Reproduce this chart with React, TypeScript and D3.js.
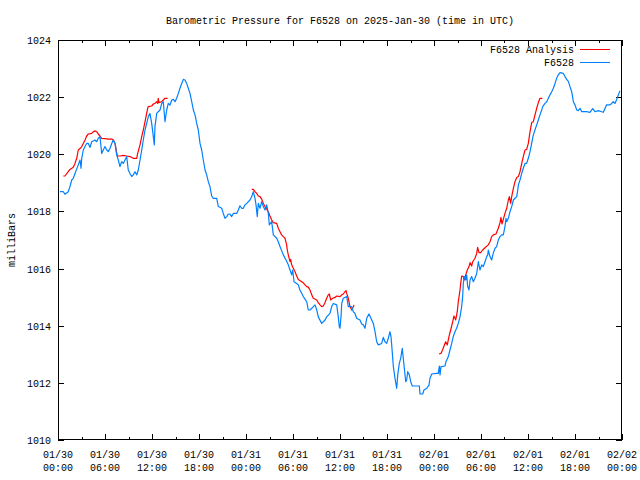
import React from "react";
import * as d3 from "d3";

const TITLE = "Barometric Pressure for F6528 on 2025-Jan-30 (time in UTC)";
const Y_LABEL = "milliBars";
const START = Date.UTC(2025, 0, 30);
const END = Date.UTC(2025, 1, 2);
const Y_DOMAIN: [number, number] = [1010, 1024];
const yTicks = [1010, 1012, 1014, 1016, 1018, 1020, 1022, 1024];
const seriesNames = ["F6528 Analysis", "F6528"];
const seriesColors = ["#ff0000", "#0080ff"];

// [hours since 2025-01-30 00:00 UTC, pressure mb]
const observed: [number, number][] = [
  [0.26, 1018.69], [0.68, 1018.69], [0.89, 1018.6], [1.31, 1018.69], [1.53, 1018.87], [1.75, 1019.1], [1.95, 1019.16], [2.17, 1019.33],
  [2.59, 1019.63], [2.81, 1019.8], [2.94, 1019.51], [3.03, 1019.86], [3.23, 1020.15], [3.45, 1020.27], [3.66, 1020.38], [3.87, 1020.38],
  [4.09, 1020.24], [4.3, 1020.44], [4.72, 1020.5], [4.94, 1020.44], [5.14, 1020.56], [5.36, 1020.62], [5.58, 1020.03], [5.78, 1020.15],
  [6.0, 1020.27], [6.22, 1020.15], [6.42, 1020.09], [6.64, 1020.21], [6.86, 1020.38], [7.06, 1020.5], [7.28, 1020.38], [7.49, 1019.98],
  [7.7, 1019.8], [7.91, 1019.57], [8.13, 1019.74], [8.34, 1019.68], [8.55, 1019.8], [8.77, 1019.92], [8.97, 1019.45], [9.19, 1019.33],
  [9.41, 1019.22], [9.61, 1019.28], [9.83, 1019.39], [10.05, 1019.28], [10.25, 1019.45], [10.47, 1019.8], [10.69, 1020.15], [10.89, 1020.5],
  [11.11, 1020.85], [11.32, 1021.08], [11.53, 1021.32], [11.74, 1021.43], [11.96, 1021.08], [12.17, 1020.62], [12.29, 1020.33], [12.38, 1020.97],
  [12.6, 1021.43], [12.8, 1021.49], [13.02, 1021.55], [13.24, 1021.78], [13.44, 1021.84], [13.66, 1021.14], [13.88, 1021.55], [14.08, 1021.78],
  [14.3, 1021.72], [14.52, 1021.9], [14.72, 1021.92], [14.94, 1021.84], [15.15, 1021.96], [15.36, 1022.13], [15.57, 1022.31], [15.79, 1022.48],
  [16.0, 1022.62], [16.21, 1022.6], [16.43, 1022.48], [16.63, 1022.31], [16.85, 1022.13], [17.07, 1021.84], [17.28, 1021.55], [17.49, 1021.38],
  [17.71, 1021.08], [17.91, 1020.85], [18.13, 1020.38], [18.34, 1020.15], [18.55, 1019.8], [18.77, 1019.45], [18.98, 1019.28], [19.19, 1019.04],
  [19.4, 1018.87], [19.62, 1018.54], [19.83, 1018.46], [20.26, 1018.46], [20.47, 1018.17], [20.9, 1018.11], [21.1, 1017.93], [21.32, 1017.76],
  [21.54, 1017.82], [21.74, 1017.91], [21.96, 1017.91], [22.17, 1017.82], [22.38, 1017.93], [22.81, 1017.93], [23.02, 1018.05], [23.23, 1018.2],
  [23.45, 1018.11], [23.66, 1018.11], [23.87, 1018.23], [24.09, 1018.28], [24.51, 1018.4], [24.73, 1018.52], [24.93, 1018.69], [25.15, 1018.46],
  [25.28, 1018.23], [25.44, 1017.82], [25.57, 1018.28], [25.79, 1018.11], [26.0, 1018.34], [26.21, 1018.17], [26.43, 1018.05], [26.64, 1018.23],
  [26.85, 1017.93], [26.98, 1017.53], [27.28, 1017.64], [27.49, 1017.18], [27.92, 1017.06], [28.12, 1016.94], [28.34, 1016.77], [28.76, 1016.48],
  [29.11, 1016.3], [29.4, 1016.13], [29.62, 1015.95], [29.83, 1015.78], [29.96, 1015.95], [30.13, 1015.54], [30.47, 1015.48], [30.68, 1015.43],
  [30.89, 1015.25], [31.32, 1015.02], [31.75, 1014.84], [31.95, 1014.55], [32.17, 1014.55], [32.39, 1014.61], [32.59, 1014.67], [32.81, 1014.73],
  [33.03, 1014.55], [33.23, 1014.31], [33.66, 1014.08], [34.09, 1014.2], [34.3, 1014.31], [34.72, 1014.43], [34.94, 1014.67], [35.15, 1014.78],
  [35.58, 1014.73], [35.78, 1014.31], [35.91, 1013.97], [36.0, 1013.91], [36.13, 1014.31], [36.22, 1014.78], [36.42, 1014.96], [36.86, 1015.02],
  [37.06, 1014.67], [37.49, 1014.67], [37.7, 1014.49], [37.91, 1014.43], [38.13, 1014.26], [38.55, 1014.2], [38.77, 1014.06], [38.98, 1014.03],
  [39.19, 1013.91], [39.41, 1014.26], [39.7, 1014.41], [40.05, 1014.2], [40.25, 1014.08], [40.47, 1013.79], [40.68, 1013.44], [40.89, 1013.33],
  [41.32, 1013.38], [41.53, 1013.59], [41.74, 1013.44], [41.96, 1013.38], [42.17, 1013.56], [42.38, 1013.79], [42.51, 1013.62], [42.6, 1013.33],
  [42.81, 1012.57], [43.02, 1012.16], [43.24, 1011.81], [43.37, 1012.28], [43.57, 1012.68], [43.75, 1012.86], [43.95, 1013.21], [44.08, 1012.86],
  [44.21, 1012.51], [44.39, 1012.04], [44.51, 1012.1], [44.64, 1012.39], [44.85, 1012.28], [45.03, 1012.04], [45.23, 1011.89], [46.13, 1011.89],
  [46.21, 1011.61], [46.56, 1011.61], [46.72, 1011.75], [47.07, 1011.81], [47.36, 1011.92], [47.49, 1012.16], [47.71, 1012.31], [48.34, 1012.33],
  [48.55, 1012.33], [48.68, 1012.59], [48.77, 1012.28], [48.89, 1012.57], [49.4, 1012.59], [49.53, 1012.74], [49.83, 1012.92], [50.04, 1013.15],
  [50.26, 1013.38], [50.46, 1013.62], [50.68, 1013.79], [50.89, 1013.91], [51.1, 1014.08], [51.32, 1014.31], [51.53, 1014.67], [51.66, 1015.02],
  [51.74, 1015.48], [51.87, 1015.72], [52.05, 1015.6], [52.17, 1015.78], [52.3, 1015.37], [52.47, 1015.25], [52.6, 1015.6], [52.81, 1015.72],
  [53.02, 1015.54], [53.23, 1015.66], [53.45, 1015.83], [53.66, 1016.24], [53.87, 1015.95], [54.09, 1016.13], [54.3, 1016.07], [54.51, 1016.24],
  [54.73, 1016.42], [54.86, 1016.48], [54.93, 1016.65], [55.15, 1016.42], [55.36, 1016.3], [55.57, 1016.54], [55.79, 1016.71], [56.0, 1016.77],
  [56.21, 1017.0], [56.43, 1017.12], [56.64, 1017.18], [56.85, 1017.18], [57.06, 1017.47], [57.19, 1017.76], [57.28, 1017.64], [57.49, 1017.76],
  [57.7, 1017.99], [57.92, 1018.17], [58.13, 1018.4], [58.34, 1018.46], [58.56, 1018.52], [58.69, 1018.75], [58.77, 1018.93], [58.98, 1019.1],
  [59.2, 1019.33], [59.4, 1019.51], [59.62, 1019.68], [59.83, 1019.68], [60.04, 1019.86], [60.26, 1020.09], [60.47, 1020.38], [60.68, 1020.68],
  [60.89, 1020.85], [61.11, 1021.03], [61.32, 1021.2], [61.53, 1021.38], [61.75, 1021.55], [61.88, 1021.67], [62.17, 1021.78], [62.39, 1021.84],
  [62.6, 1021.96], [62.81, 1022.08], [63.03, 1022.19], [63.23, 1022.31], [63.45, 1022.48], [63.66, 1022.66], [63.87, 1022.78], [64.09, 1022.86],
  [64.51, 1022.83], [64.72, 1022.72], [64.94, 1022.62], [65.15, 1022.55], [65.36, 1022.37], [65.58, 1022.19], [65.79, 1021.84], [66.0, 1021.73],
  [66.22, 1021.55], [66.42, 1021.53], [66.64, 1021.61], [66.86, 1021.49], [67.49, 1021.49], [67.91, 1021.47], [68.26, 1021.6], [68.55, 1021.49],
  [68.98, 1021.53], [69.4, 1021.49], [69.62, 1021.47], [69.83, 1021.6], [70.04, 1021.73], [70.47, 1021.73], [70.68, 1021.78], [70.89, 1021.84],
  [71.11, 1021.78], [71.32, 1021.92], [71.53, 1022.08], [71.74, 1022.22],
];

const analysisRun1: [number, number][] = [
  [0.68, 1019.24], [0.89, 1019.24], [1.31, 1019.39], [1.53, 1019.47], [1.95, 1019.55], [2.17, 1019.68], [2.39, 1019.86], [2.59, 1020.15],
  [2.81, 1020.2], [3.03, 1020.27], [3.23, 1020.38], [3.45, 1020.5], [3.66, 1020.64], [3.87, 1020.71], [4.3, 1020.73], [4.51, 1020.79],
  [4.72, 1020.82], [4.94, 1020.79], [5.14, 1020.71], [5.36, 1020.64], [5.58, 1020.56], [6.0, 1020.55], [6.42, 1020.53], [6.86, 1020.53],
  [7.06, 1020.5], [7.28, 1020.38], [7.4, 1020.2], [7.57, 1019.94], [7.91, 1019.94], [8.34, 1019.96], [8.77, 1019.94], [9.19, 1019.92],
  [9.61, 1019.86], [10.05, 1019.86], [10.17, 1020.03], [10.47, 1020.33], [10.69, 1020.62], [10.89, 1020.85], [11.11, 1021.14], [11.32, 1021.43],
  [11.45, 1021.61], [11.53, 1021.67], [11.96, 1021.69], [12.17, 1021.76], [12.38, 1021.78], [12.6, 1021.84], [12.73, 1021.78], [12.8, 1021.96],
  [12.89, 1021.81], [13.24, 1021.84], [13.44, 1021.9], [13.66, 1021.96], [14.0, 1021.96],
];

const analysisRun2: [number, number][] = [
  [24.73, 1018.77], [24.93, 1018.77], [25.15, 1018.69], [25.37, 1018.63], [25.57, 1018.54], [25.79, 1018.52], [26.0, 1018.43], [26.21, 1018.28],
  [26.43, 1018.17], [26.64, 1018.08], [26.85, 1017.99], [27.06, 1017.84], [27.28, 1017.7], [27.49, 1017.61], [27.92, 1017.58], [28.12, 1017.41],
  [28.34, 1017.29], [28.55, 1017.18], [28.76, 1017.12], [28.98, 1017.06], [29.19, 1016.83], [29.27, 1016.65], [29.4, 1016.48], [29.62, 1016.24],
  [29.7, 1016.32], [29.83, 1016.13], [30.04, 1016.01], [30.26, 1015.89], [30.47, 1015.74], [30.68, 1015.62], [31.11, 1015.54], [31.32, 1015.5],
  [31.53, 1015.43], [31.75, 1015.37], [31.95, 1015.35], [32.17, 1015.25], [32.39, 1015.08], [32.59, 1014.96], [33.03, 1014.9], [33.23, 1014.81],
  [33.45, 1014.73], [33.66, 1014.67], [33.87, 1014.69], [34.09, 1014.81], [34.3, 1014.96], [34.51, 1015.08], [34.64, 1015.11], [34.81, 1014.9],
  [35.07, 1014.96], [35.36, 1014.99], [35.58, 1015.04], [36.0, 1015.02], [36.22, 1015.08], [36.42, 1015.11], [36.64, 1015.19], [36.77, 1015.23],
  [36.86, 1015.13], [37.06, 1014.96], [37.28, 1014.67], [37.49, 1014.55], [37.62, 1014.61], [37.79, 1014.73],
];

const analysisRun3: [number, number][] = [
  [48.64, 1013.01], [48.89, 1013.03], [49.11, 1013.17], [49.28, 1013.29], [49.49, 1013.44], [49.7, 1013.33], [49.91, 1013.62], [50.13, 1013.85],
  [50.39, 1014.14], [50.55, 1014.34], [50.77, 1014.2], [50.97, 1014.49], [51.1, 1014.84], [51.32, 1015.25], [51.41, 1015.48], [51.53, 1015.74],
  [51.74, 1015.72], [51.87, 1015.6], [52.05, 1015.78], [52.25, 1015.95], [52.47, 1016.07], [52.6, 1016.21], [52.81, 1016.09], [52.94, 1016.24],
  [53.23, 1016.36], [53.45, 1016.53], [53.57, 1016.74], [53.74, 1016.56], [53.96, 1016.56], [54.21, 1016.65], [54.51, 1016.73], [54.93, 1016.83],
  [55.15, 1016.94], [55.36, 1017.12], [55.57, 1017.18], [55.91, 1017.21], [56.21, 1017.41], [56.43, 1017.61], [56.55, 1017.79], [56.68, 1017.56],
  [56.85, 1017.72], [57.06, 1017.93], [57.28, 1018.11], [57.49, 1018.4], [57.62, 1018.52], [57.79, 1018.28], [57.92, 1018.52], [58.13, 1018.81],
  [58.34, 1019.04], [58.56, 1019.19], [58.77, 1019.22], [58.98, 1019.39], [59.2, 1019.68], [59.4, 1019.92], [59.62, 1020.15], [59.83, 1020.17],
  [60.04, 1020.38], [60.26, 1020.79], [60.47, 1021.11], [60.68, 1021.14], [60.89, 1021.38], [61.11, 1021.61], [61.32, 1021.81], [61.53, 1021.96],
  [61.83, 1021.96],
];

const analysisRuns = [analysisRun1, analysisRun2, analysisRun3];

const FONT = "'Liberation Mono', 'DejaVu Sans Mono', monospace";

export default function App() {
  const W = 640;
  const H = 480;
  const L = 58, R = 622, T = 40, B = 440;

  const x = d3.scaleUtc().domain([new Date(START), new Date(END)]).range([L, R]);
  const y = d3.scaleLinear().domain(Y_DOMAIN).range([B, T]);
  const toDate = (h: number) => new Date(START + h * 3600 * 1000);
  const line = d3
    .line<[number, number]>()
    .x((d) => x(toDate(d[0])))
    .y((d) => y(d[1]));

  const major = d3.utcHour.every(6)!.range(new Date(START), new Date(END + 1));
  const minor = d3.utcHour.every(3)!.range(new Date(START), new Date(END + 1)).filter((d) => d.getUTCHours() % 6 !== 0);
  const fmtDate = d3.utcFormat("%m/%d");
  const fmtTime = d3.utcFormat("%H:%M");

  const majorLen = 6;
  const minorLen = 3;

  return (
    <svg
      width={W}
      height={H}
      viewBox={`0 0 ${W} ${H}`}
      style={{ position: "absolute", left: 0, top: 0, background: "#ffffff" }}
      fontFamily={FONT}
      fontSize={10}
    >
      <rect x={0} y={0} width={W} height={H} fill="#ffffff" />
      <text x={(L + R) / 2} y={24} textAnchor="middle" fill="#000">
        {TITLE}
      </text>

      <g shapeRendering="crispEdges" stroke="#000" strokeWidth={1}>
        {yTicks.map((v) => (
          <g key={v}>
            <line x1={L} x2={L + majorLen} y1={Math.round(y(v)) + 0.5} y2={Math.round(y(v)) + 0.5} />
            <line x1={R - majorLen} x2={R} y1={Math.round(y(v)) + 0.5} y2={Math.round(y(v)) + 0.5} />
          </g>
        ))}
        {major.map((d) => (
          <g key={d.getTime()}>
            <line x1={Math.round(x(d)) + 0.5} x2={Math.round(x(d)) + 0.5} y1={B} y2={B - majorLen} />
            <line x1={Math.round(x(d)) + 0.5} x2={Math.round(x(d)) + 0.5} y1={T} y2={T + majorLen} />
          </g>
        ))}
        {minor.map((d) => (
          <g key={d.getTime()}>
            <line x1={Math.round(x(d)) + 0.5} x2={Math.round(x(d)) + 0.5} y1={B} y2={B - minorLen} />
            <line x1={Math.round(x(d)) + 0.5} x2={Math.round(x(d)) + 0.5} y1={T} y2={T + minorLen} />
          </g>
        ))}
      </g>

      {yTicks.map((v) => (
        <text key={v} x={51} y={y(v) + 4} textAnchor="end" fill="#000">
          {v}
        </text>
      ))}
      {major.map((d) => (
        <g key={d.getTime()}>
          <text x={x(d)} y={458} textAnchor="middle" fill="#000">
            {fmtDate(d)}
          </text>
          <text x={x(d)} y={471} textAnchor="middle" fill="#000">
            {fmtTime(d)}
          </text>
        </g>
      ))}

      <text transform={`translate(15,${(T + B) / 2}) rotate(-90)`} textAnchor="middle" fill="#000">
        {Y_LABEL}
      </text>

      {analysisRuns.map((run, i) => (
        <path key={i} d={line(run) ?? ""} fill="none" stroke={seriesColors[0]} strokeWidth={1.2} strokeLinejoin="round" />
      ))}
      <path d={line(observed) ?? ""} fill="none" stroke={seriesColors[1]} strokeWidth={1.2} strokeLinejoin="round" />

      {seriesNames.map((name, i) => (
        <g key={name}>
          <text x={574} y={53 + i * 13} textAnchor="end" fill="#000">
            {name}
          </text>
          <line
            x1={580}
            x2={610}
            y1={49.5 + i * 13}
            y2={49.5 + i * 13}
            stroke={seriesColors[i]}
            strokeWidth={1}
            shapeRendering="crispEdges"
          />
        </g>
      ))}

      <rect x={L + 0.5} y={T + 0.5} width={R - L - 1} height={B - T - 1} fill="none" stroke="#000" strokeWidth={1} shapeRendering="crispEdges" />
    </svg>
  );
}
